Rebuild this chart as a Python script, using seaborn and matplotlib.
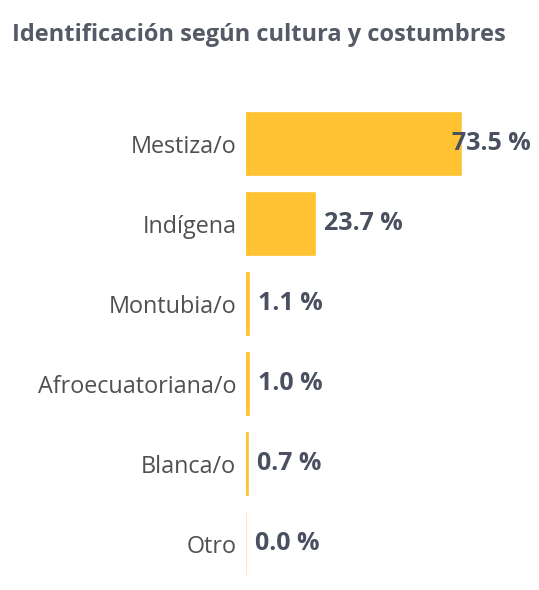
import matplotlib
matplotlib.use("Agg")
import matplotlib.pyplot as plt
import seaborn as sns
import pandas as pd

categories = ["Mestiza/o", "Indígena", "Montubia/o", "Afroecuatoriana/o", "Blanca/o", "Otro"]
values = [73.5, 23.7, 1.1, 1.0, 0.7, 0.0]
value_labels = ["73.5 %", "23.7 %", "1.1 %", "1.0 %", "0.7 %", "0.0 %"]
title = "Identificación según cultura y costumbres"

sns.set_theme(style="white")
plt.rcParams['font.family'] = ['Open Sans', 'DejaVu Sans']

df = pd.DataFrame({"cat": categories, "val": values})

W, H = 539, 590
fig = plt.figure(figsize=(W / 100, H / 100), dpi=100)
ax = fig.add_axes([246 / W, (H - 584) / H, (539 - 246) / W, (584 - 104) / H])

bar_color = "#FFC233"
sns.barplot(data=df, x="val", y="cat", orient="h", color=bar_color, saturation=1,
            width=0.775, ax=ax, edgecolor=bar_color, linewidth=1.2)
# fade the zero-value sliver
for p, v in zip(ax.patches, values):
    if v == 0:
        p.set_edgecolor("#FFE3A0")

ax.set_xlim(0, 100)
ax.set_ylim(5.5, -0.5)
ax.set_xlabel("")
ax.set_ylabel("")
ax.set_xticks([])
for s in ax.spines.values():
    s.set_visible(False)
ax.tick_params(axis="y", length=0, pad=7, labelsize=16.8, labelcolor="#505050")

val_color = "#4A5060"
for i, (v, lab) in enumerate(zip(values, value_labels)):
    if v > 60:
        ax.annotate(lab, xy=(0.973, i), xycoords=("axes fraction", "data"),
                    ha="right", va="center", fontsize=18, fontweight="bold", color=val_color)
    else:
        ax.annotate(lab, xy=(v, i), xytext=(6.5, 0), textcoords="offset points",
                    ha="left", va="center", fontsize=18, fontweight="bold", color=val_color)

fig.text(12 / W, 1 - 35 / H, title, ha="left", va="center", fontsize=17,
         fontweight="bold", color="#555B66")

fig.savefig("out.png", dpi=100, facecolor="white")
